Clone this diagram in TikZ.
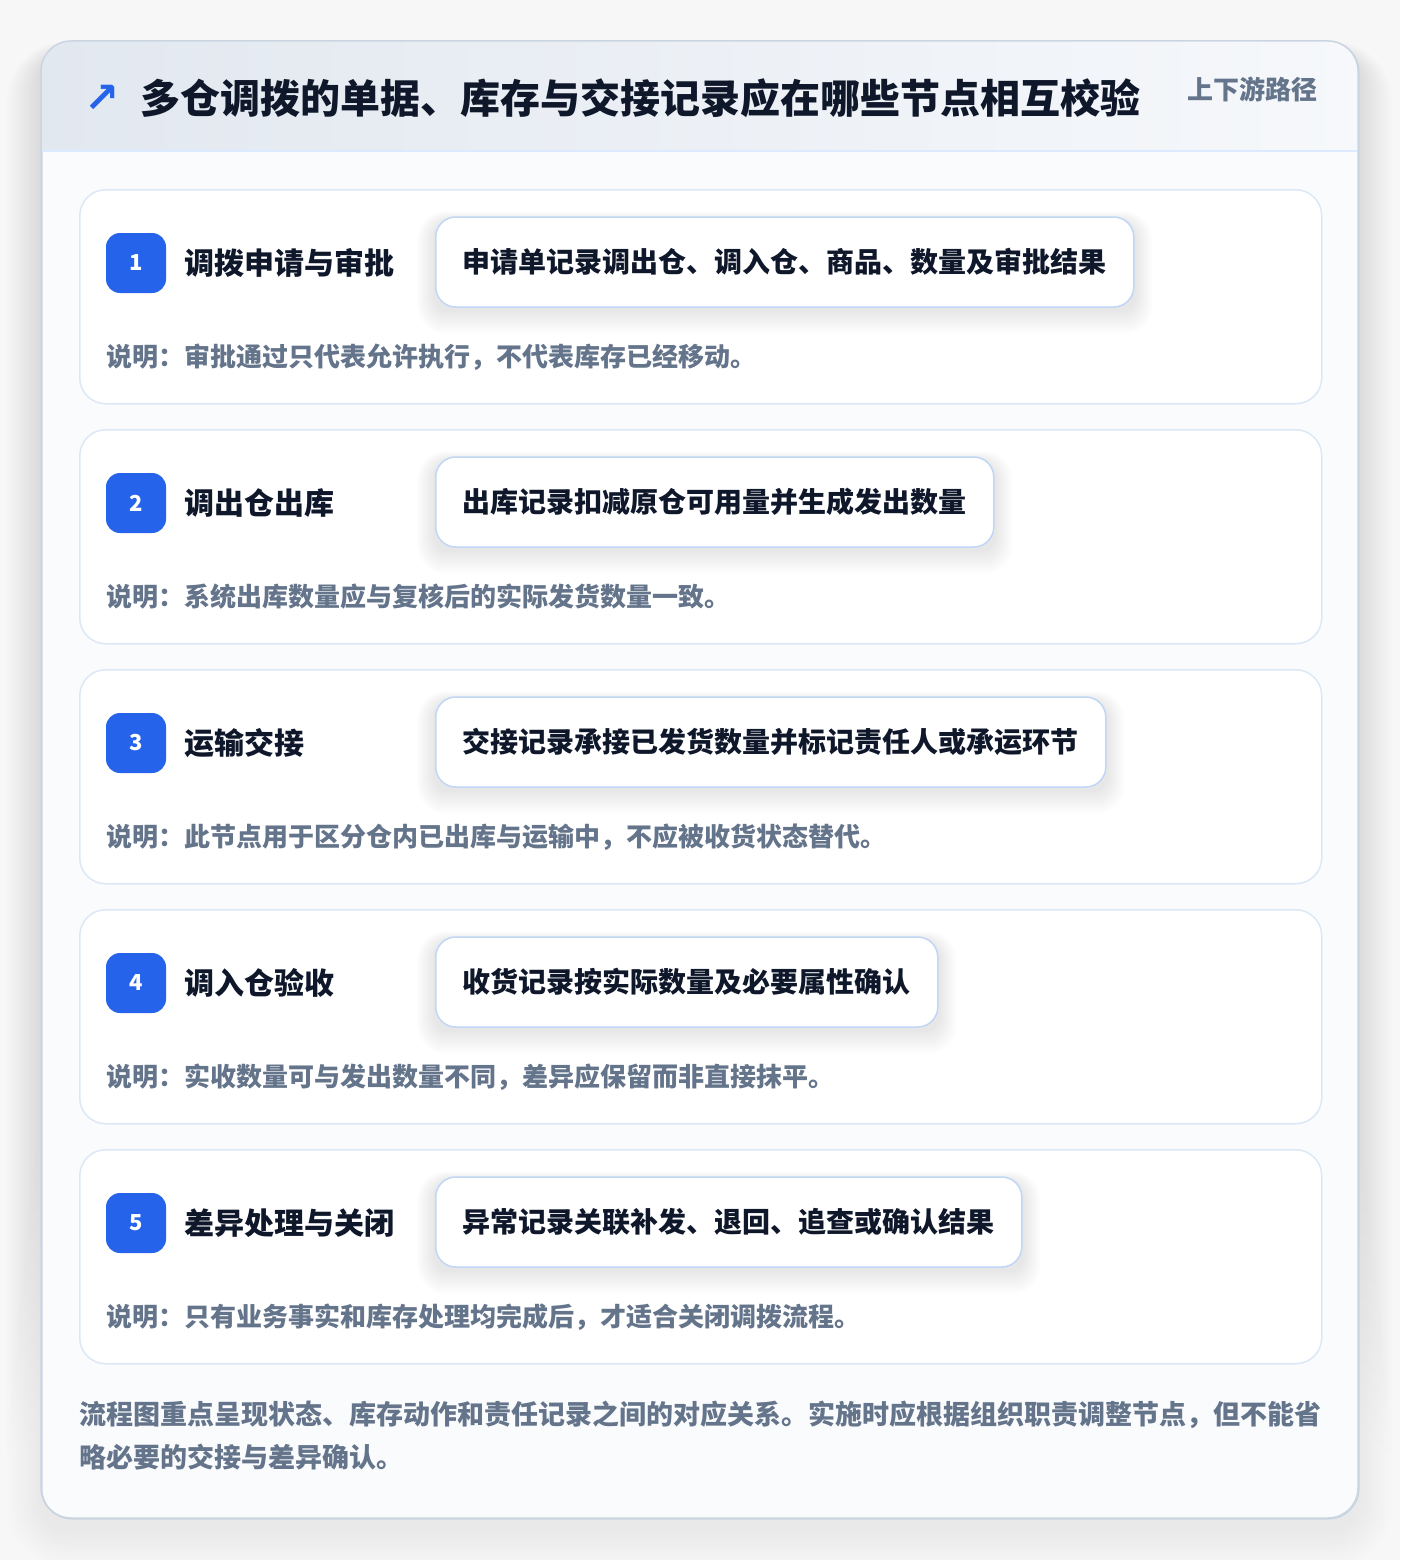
\documentclass[tikz,border=0pt]{standalone}
\usepackage{fontspec}
\setmainfont{Noto Sans CJK SC}
\newfontfamily\symfont{DejaVu Sans}
\definecolor{pagebg}{HTML}{F7F7F8}
\definecolor{cardfill}{HTML}{FAFBFD}
\definecolor{cardline}{HTML}{CBD5E1}
\definecolor{hdrL}{HTML}{E2E8F0}
\definecolor{hdrR}{HTML}{F6F8FB}
\definecolor{hdrline}{HTML}{DBEAFE}
\definecolor{stepline}{HTML}{DCE8F7}
\definecolor{boxline}{HTML}{BFD7F5}
\definecolor{accent}{HTML}{2563EB}
\definecolor{ink}{HTML}{0F172A}
\definecolor{muted}{HTML}{64748B}
\definecolor{shade}{HTML}{1E293B}
\pgfdeclarelayer{bottom}
\pgfdeclarelayer{cards}
\pgfdeclarelayer{shadows}
\pgfsetlayers{bottom,cards,shadows,main}
\tikzset{
  outercard/.style={draw=cardline, line width=1.5pt, fill=cardfill, rounded corners=30pt, inner sep=0pt, anchor=north west},
  stepcard/.style={draw=stepline, line width=1.5pt, fill=white, rounded corners=26pt, inner sep=0pt, anchor=north west,
    minimum width=1242pt, minimum height=214pt},
  badge/.style={fill=accent, rounded corners=14pt, minimum width=60pt, minimum height=60pt, inner sep=0pt,
    text=white, font=\fontsize{22}{26}\selectfont\bfseries},
  steptitle/.style={anchor=west, inner sep=0pt, text=ink, font=\fontsize{30}{36}\selectfont\bfseries},
  infobox/.style={draw=boxline, line width=1.5pt, fill=white, rounded corners=20pt, anchor=west,
    minimum height=90pt, inner xsep=27pt, inner ysep=0pt, text=ink, font=\fontsize{28}{34}\selectfont\bfseries},
  desc/.style={anchor=west, inner sep=0pt, text=muted, font=\fontsize{26}{30}\selectfont\bfseries},
  footnote/.style={anchor=west, inner sep=0pt, text=muted, font=\fontsize{27}{32}\selectfont\bfseries},
}
\newcommand\onestep[4]{%
  \pgfmathsetmacro\ytop{189+240*(#1-1)}
  \begin{pgfonlayer}{cards}
    \node[stepcard] (card#1) at (79,\ytop) {};
  \end{pgfonlayer}
  \node[badge] (badge#1) at (136,\ytop+74) {#1};
  \node[steptitle] (title#1) at (184,\ytop+74) {#2};
  \node[infobox] (box#1) at (435,\ytop+73) {#3};
  \begin{pgfonlayer}{shadows}
    \foreach \k in {1,...,8}{
      \fill[shade, opacity=0.007, rounded corners=20pt+\k pt]
        ([xshift=-\k*2.2pt, yshift=-5pt+\k*1.2pt]box#1.north west) rectangle ([xshift=\k*2.2pt, yshift=-5pt-\k*2.6pt]box#1.south east);
    }
  \end{pgfonlayer}
  \node[desc] (desc#1) at (106,\ytop+168) {#4};
}
\begin{document}
\begin{tikzpicture}[x=1pt,y=-1pt]
\useasboundingbox (0,0) rectangle (1400,1560);
\begin{pgfonlayer}{bottom}
\fill[pagebg] (0,0) rectangle (1400,1560);
% soft shadow of the outer card
\foreach \k in {1,...,14}{
  \fill[shade, opacity=0.0045, rounded corners=30pt+\k*2pt]
    (41-\k*2.4,41-\k*0.8+12) rectangle (1358+\k*2.4,1518+\k*2.6+12);
}
\node[outercard, minimum width=1317pt, minimum height=1477pt] (frame) at (41,41) {};
\shade[left color=hdrL, right color=hdrR] (41,151) [rounded corners=30pt] -- (41,41) -- (1358,41) [sharp corners] -- (1358,151) -- cycle;
\draw[hdrline, line width=1.5pt] (41.8,151) -- (1357.2,151);
\draw[cardline, line width=1.5pt, rounded corners=30pt] (41,41) rectangle (1358,1518);
\end{pgfonlayer}
\node[anchor=center, inner sep=0pt, text=accent, font=\symfont\fontsize{42}{42}\selectfont\bfseries] (icon) at (102,99) {↗};
\node[anchor=west, inner sep=0pt, text=ink, font=\fontsize{40}{48}\selectfont\bfseries] (title) at (140,98) {多仓调拨的单据、库存与交接记录应在哪些节点相互校验};
\node[anchor=east, inner sep=0pt, text=muted, font=\fontsize{26}{30}\selectfont\bfseries] (tag) at (1318,89) {上下游路径};
\onestep{1}{调拨申请与审批}{申请单记录调出仓、调入仓、商品、数量及审批结果}{说明：审批通过只代表允许执行，不代表库存已经移动。}
\onestep{2}{调出仓出库}{出库记录扣减原仓可用量并生成发出数量}{说明：系统出库数量应与复核后的实际发货数量一致。}
\onestep{3}{运输交接}{交接记录承接已发货数量并标记责任人或承运环节}{说明：此节点用于区分仓内已出库与运输中，不应被收货状态替代。}
\onestep{4}{调入仓验收}{收货记录按实际数量及必要属性确认}{说明：实收数量可与发出数量不同，差异应保留而非直接抹平。}
\onestep{5}{差异处理与关闭}{异常记录关联补发、退回、追查或确认结果}{说明：只有业务事实和库存处理均完成后，才适合关闭调拨流程。}
\node[footnote] (footer1) at (79,1415) {流程图重点呈现状态、库存动作和责任记录之间的对应关系。实施时应根据组织职责调整节点，但不能省};
\node[footnote] (footer2) at (79,1457) {略必要的交接与差异确认。};
\end{tikzpicture}
\end{document}
